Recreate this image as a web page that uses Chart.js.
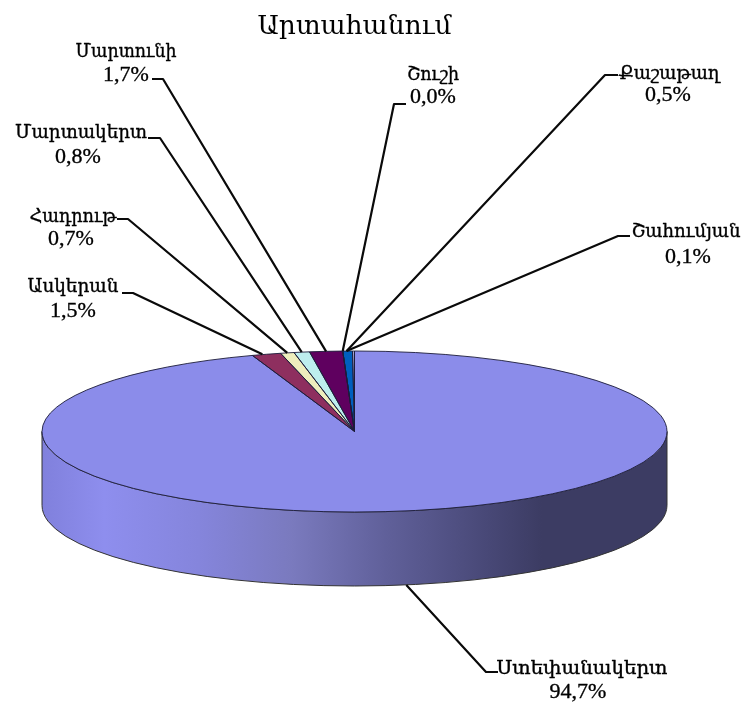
<!DOCTYPE html>
<html><head><meta charset="utf-8">
<style>html,body{margin:0;padding:0;background:#fff}canvas{display:block;filter:blur(0.35px)}</style>
<script src="https://cdn.jsdelivr.net/npm/chart.js@4"></script>
</head><body><canvas id="c" width="747" height="705"></canvas>
<script>
const titleText = 'Արտահանում';
const categories = ['Ստեփանակերտ','Ասկերան','Հադրութ','Մարտակերտ','Մարտունի','Շուշի','Քաշաթաղ','Շահումյան'];
const shares = [94.7,1.5,0.7,0.8,1.7,0.0,0.5,0.1];
const sliceColors = ['#8b8cea','#8e2f5f','#eeeebd','#bdeeee','#5f005f','#ee7777','#005fbe','#bdbdee'];

// Layout of the drawing only
const FONT = '"DejaVu Serif",serif';
const PCT_FONT = '"Liberation Serif",serif';
const centerY = 431.5, radiusY = 80.5, wallH = 74;
// [nameX, nameY, pctX, pctY, elbowX, elbowY, dashEndX, anchorNudgeX, nameWidth]
const labelBoxes = [
 [582,669,578,692,486,672,498,0,171],
 [73,287,73,311,133,293,122,-4,91],
 [73,217,71,239,128,219,117,0,87],
 [81,133,78,157,160,138,148,0,132],
 [126,52,126,75,163,79,152,0,101],
 [433,75,433,97,394,104,406,0,52],
 [669,74,668,95,605,75,618,-1,101],
 [686,232,688,257,618,236,630,-7,109]
];

const pie3d = {
  id:'pie3d',
  beforeDatasetsDraw(chart){
    const ctx=chart.ctx, a=chart.getDatasetMeta(0).data[0];
    const cx=a.x, rx=a.outerRadius;
    ctx.save();
    ctx.beginPath();
    ctx.ellipse(cx,centerY,rx,radiusY,0,Math.PI,0,true);
    ctx.lineTo(cx+rx,centerY+wallH);
    ctx.ellipse(cx,centerY+wallH,rx,radiusY,0,0,Math.PI,false);
    ctx.closePath();
    const g=ctx.createLinearGradient(cx-rx,0,cx+rx,0);
    [[0,'#8080dc'],[0.1,'#8e8eee'],[0.25,'#8585dc'],[0.4,'#7a7abe'],[0.55,'#60609a'],[0.72,'#474775'],[0.8,'#3c3c63'],[1,'#3c3c63']]
      .forEach(s=>g.addColorStop(s[0],s[1]));
    ctx.fillStyle=g; ctx.fill();
    ctx.strokeStyle='#333'; ctx.lineWidth=1; ctx.stroke();
    ctx.restore();
    ctx.save();
    const k=radiusY/rx;
    ctx.translate(cx,centerY); ctx.scale(1,k); ctx.translate(-cx,-a.y);
  },
  afterDatasetsDraw(chart){
    const ctx=chart.ctx, arcs=chart.getDatasetMeta(0).data, a0=arcs[0];
    const cx=a0.x, rx=a0.outerRadius, k=radiusY/rx;
    ctx.restore();
    // slice outlines: path built in squashed space, stroked in plain space
    arcs.forEach(a=>{
      ctx.save();
      ctx.translate(cx,centerY); ctx.scale(1,k);
      ctx.beginPath(); ctx.moveTo(0,0);
      ctx.arc(0,0,rx,a.startAngle,a.endAngle); ctx.closePath();
      ctx.restore();
      ctx.strokeStyle='#1c1c3a'; ctx.lineWidth=0.9; ctx.stroke();
    });
    // leaders + labels
    ctx.save();
    arcs.forEach((a,i)=>{
      const b=labelBoxes[i], mid=(a.startAngle+a.endAngle)/2;
      let ax=cx+rx*Math.cos(mid)+b[7], ay=centerY+radiusY*Math.sin(mid);
      if(Math.sin(mid)>0) ay+=wallH;
      ctx.beginPath(); ctx.moveTo(ax,ay); ctx.lineTo(b[4],b[5]); ctx.lineTo(b[6],b[5]);
      ctx.strokeStyle='#0a0a0a'; ctx.lineWidth=2.2; ctx.lineJoin='round'; ctx.stroke();
      ctx.fillStyle='#000'; ctx.strokeStyle='#000'; ctx.lineWidth=0.35;
      ctx.textAlign='center'; ctx.textBaseline='middle';
      ctx.font='19px '+FONT;
      const sx=b[8]/ctx.measureText(categories[i]).width;
      ctx.save(); ctx.translate(b[0],b[1]); ctx.scale(sx,1);
      ctx.fillText(categories[i],0,0); ctx.strokeText(categories[i],0,0);
      ctx.restore();
      const pct=shares[i].toFixed(1).replace('.',',')+'%';
      ctx.font='22px '+PCT_FONT;
      ctx.fillText(pct,b[2],b[3]); ctx.strokeText(pct,b[2],b[3]);
    });
    ctx.restore();
  }
};

new Chart(document.getElementById('c'),{
  type:'pie',
  data:{labels:categories,datasets:[{data:shares,backgroundColor:sliceColors,borderWidth:0}]},
  options:{
    responsive:false,animation:false,
    layout:{padding:{left:42,right:80,top:0,bottom:0}},
    plugins:{
      legend:{display:false},tooltip:{enabled:false},
      title:{display:true,text:titleText,color:'#000',fullSize:false,
        font:{family:FONT,size:26.5,weight:'normal'},padding:{top:11,bottom:4}}
    }
  },
  plugins:[pie3d]
});
</script></body></html>
